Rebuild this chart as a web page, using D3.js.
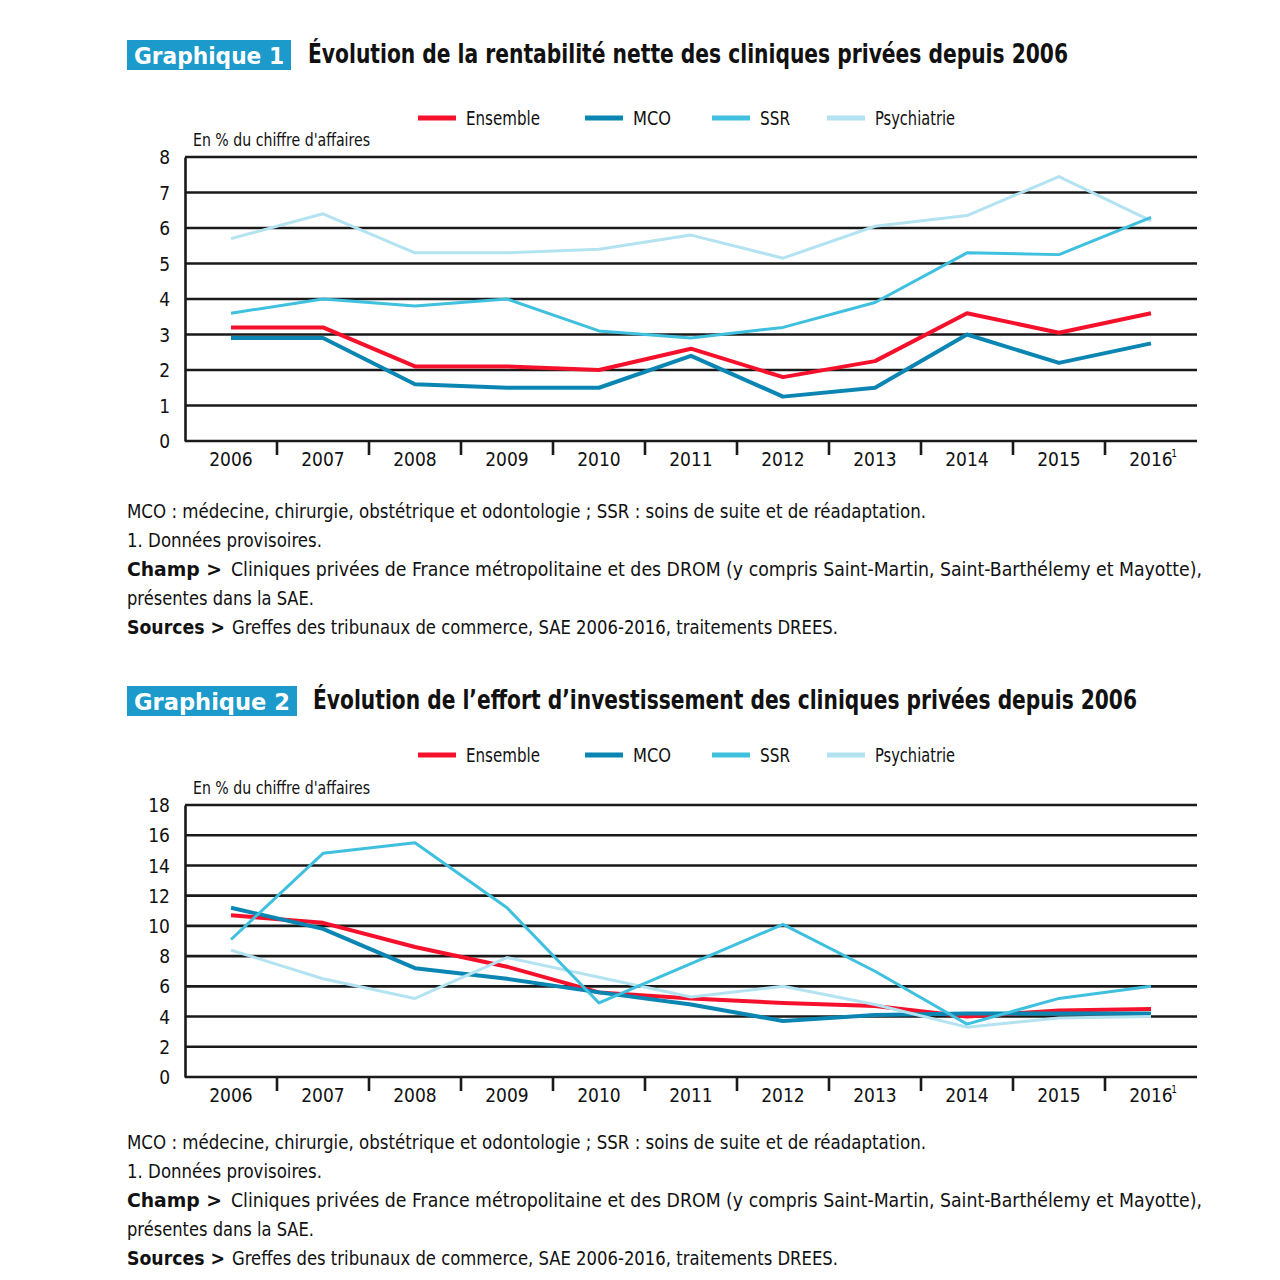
<!DOCTYPE html>
<html>
<head>
<meta charset="utf-8">
<script src="https://cdn.jsdelivr.net/npm/d3@7"></script>
<style>
  body { margin: 0; background: #fff; }
  svg { display: block; }
  text { font-family: "Liberation Sans Narrow", "DejaVu Sans Condensed", "Roboto Condensed", sans-serif; fill: #111; }
</style>
</head>
<body>
<div id="chart"></div>
<script>
const years = ['2006','2007','2008','2009','2010','2011','2012','2013','2014','2015','2016'];
const seriesNames = ['Ensemble','MCO','SSR','Psychiatrie'];

// Graphique 1 : rentabilité nette (% du CA)
const rentEnsemble = [3.2, 3.2, 2.1, 2.1, 2.0, 2.6, 1.8, 2.25, 3.6, 3.05, 3.6];
const rentMCO      = [2.9, 2.9, 1.6, 1.5, 1.5, 2.4, 1.25, 1.5, 3.0, 2.2, 2.75];
const rentSSR      = [3.6, 4.0, 3.8, 4.0, 3.1, 2.9, 3.2, 3.9, 5.3, 5.25, 6.3];
const rentPsy      = [5.7, 6.4, 5.3, 5.3, 5.4, 5.8, 5.15, 6.05, 6.35, 7.45, 6.2];
const rentTicks    = [0, 1, 2, 3, 4, 5, 6, 7, 8];

// Graphique 2 : effort d'investissement (% du CA)
const invEnsemble = [10.7, 10.2, 8.6, 7.3, 5.6, 5.2, 4.9, 4.7, 4.0, 4.4, 4.5];
const invMCO      = [11.2, 9.8, 7.2, 6.5, 5.6, 4.8, 3.7, 4.1, 4.2, 4.2, 4.2];
const invSSR      = [9.1, 14.8, 15.5, 11.2, 4.9, 7.5, 10.1, 7.0, 3.5, 5.2, 6.0];
const invPsy      = [8.4, 6.5, 5.2, 7.9, 6.6, 5.3, 6.0, 4.8, 3.3, 3.9, 4.0];
const invTicks    = [0, 2, 4, 6, 8, 10, 12, 14, 16, 18];

const colors = {Ensemble: '#f5112c', MCO: '#0b86b3', SSR: '#3ec0de', Psychiatrie: '#b3e3f1'};
const widths = {Ensemble: 4, MCO: 4, SSR: 3, Psychiatrie: 3};
const drawOrder = ['Ensemble', 'MCO', 'Psychiatrie', 'SSR'];

const svg = d3.select('#chart').append('svg')
    .attr('width', 1280)
    .attr('height', 1280);

function drawChart(cfg) {
    const g = svg.append('g');
    const top = cfg.top;

    // titre
    g.append('rect')
        .attr('x', 127).attr('y', top)
        .attr('width', cfg.boxW).attr('height', 30)
        .attr('fill', '#1b9acb');
    g.append('text')
        .attr('x', 134).attr('y', top + 24)
        .attr('font-size', 23).attr('font-weight', 'bold')
        .attr('textLength', cfg.boxW - 14).attr('lengthAdjust', 'spacingAndGlyphs')
        .style('fill', '#fff')
        .text(cfg.label);
    g.append('text')
        .attr('x', cfg.titleX).attr('y', top + 23)
        .attr('font-size', 26).attr('font-weight', 'bold')
        .attr('textLength', cfg.titleW).attr('lengthAdjust', 'spacingAndGlyphs')
        .text(cfg.title);

    // légende
    const legX = [418, 585, 712, 827];
    const legW = [74, 38, 30, 80];
    seriesNames.forEach((name, i) => {
        const ly = cfg.legendY;
        g.append('line')
            .attr('x1', legX[i]).attr('x2', legX[i] + 38)
            .attr('y1', ly).attr('y2', ly)
            .attr('stroke', colors[name]).attr('stroke-width', 5);
        g.append('text')
            .attr('x', legX[i] + 48).attr('y', ly + 7)
            .attr('font-size', 20)
            .attr('textLength', legW[i]).attr('lengthAdjust', 'spacingAndGlyphs')
            .text(name);
    });

    g.append('text')
        .attr('x', 193).attr('y', cfg.y0 - 11)
        .attr('font-size', 18)
        .attr('textLength', 177).attr('lengthAdjust', 'spacingAndGlyphs')
        .text("En % du chiffre d'affaires");

    const x = d3.scaleBand().domain(years).range([185, 1197]);
    const y = d3.scaleLinear().domain([0, cfg.max]).range([cfg.y1, cfg.y0]);

    // grille horizontale
    g.append('g').selectAll('line')
        .data(cfg.ticks)
        .join('line')
        .attr('x1', 185).attr('x2', 1197)
        .attr('y1', d => y(d)).attr('y2', d => y(d))
        .attr('stroke', '#1a1a1a').attr('stroke-width', 2.6);

    // axe y
    const yAxis = g.append('g')
        .attr('transform', 'translate(185,0)')
        .call(d3.axisLeft(y).tickValues(cfg.ticks).tickSize(0).tickPadding(15));
    yAxis.select('.domain').attr('stroke', '#1a1a1a').attr('stroke-width', 2.6);
    yAxis.selectAll('text').attr('font-size', 19).attr('dy', '0.35em')
        .style('font-family', '"Liberation Sans Narrow", "DejaVu Sans Condensed", sans-serif');

    // axe x
    const xAxis = g.append('g')
        .attr('transform', `translate(0,${cfg.y1})`)
        .call(d3.axisBottom(x).tickSize(0).tickPadding(12));
    xAxis.select('.domain').remove();
    xAxis.selectAll('text').attr('font-size', 19)
        .style('font-family', '"Liberation Sans Narrow", "DejaVu Sans Condensed", sans-serif');
    xAxis.selectAll('.tick')
        .filter(d => d === '2016')
        .append('text')
        .attr('x', 23).attr('y', 16)
        .attr('font-size', 10)
        .style('fill', '#111')
        .text('1');
    g.append('g').selectAll('line')
        .data(years.slice(1))
        .join('line')
        .attr('x1', d => x(d)).attr('x2', d => x(d))
        .attr('y1', cfg.y1).attr('y2', cfg.y1 + 14)
        .attr('stroke', '#1a1a1a').attr('stroke-width', 2.6);

    // courbes
    const line = d3.line()
        .x((d, i) => x(years[i]) + x.bandwidth() / 2)
        .y(d => y(d));
    drawOrder.forEach(name => {
        g.append('path')
            .datum(cfg.series[name])
            .attr('fill', 'none')
            .attr('stroke', colors[name])
            .attr('stroke-width', widths[name])
            .attr('stroke-linejoin', 'round')
            .attr('d', line);
    });

    // notes
    const notes = g.append('g').attr('font-size', 20);
    const n0 = cfg.notesY;
    const step = 29;
    notes.append('text').attr('x', 127).attr('y', n0)
        .attr('textLength', 799).attr('lengthAdjust', 'spacingAndGlyphs')
        .text('MCO : médecine, chirurgie, obstétrique et odontologie ; SSR : soins de suite et de réadaptation.');
    notes.append('text').attr('x', 127).attr('y', n0 + step)
        .attr('textLength', 195).attr('lengthAdjust', 'spacingAndGlyphs')
        .text('1. Données provisoires.');
    notes.append('text').attr('x', 127).attr('y', n0 + step * 2)
        .attr('font-weight', 'bold')
        .attr('textLength', 95).attr('lengthAdjust', 'spacingAndGlyphs')
        .text('Champ >');
    notes.append('text').attr('x', 231).attr('y', n0 + step * 2)
        .attr('textLength', 971).attr('lengthAdjust', 'spacingAndGlyphs')
        .text('Cliniques privées de France métropolitaine et des DROM (y compris Saint-Martin, Saint-Barthélemy et Mayotte),');
    notes.append('text').attr('x', 127).attr('y', n0 + step * 3)
        .attr('textLength', 187).attr('lengthAdjust', 'spacingAndGlyphs')
        .text('présentes dans la SAE.');
    notes.append('text').attr('x', 127).attr('y', n0 + step * 4)
        .attr('font-weight', 'bold')
        .attr('textLength', 98).attr('lengthAdjust', 'spacingAndGlyphs')
        .text('Sources >');
    notes.append('text').attr('x', 232).attr('y', n0 + step * 4)
        .attr('textLength', 606).attr('lengthAdjust', 'spacingAndGlyphs')
        .text('Greffes des tribunaux de commerce, SAE 2006-2016, traitements DREES.');
}

drawChart({
    top: 40, boxW: 164, label: 'Graphique 1',
    titleX: 308, titleW: 760,
    title: 'Évolution de la rentabilité nette des cliniques privées depuis 2006',
    legendY: 118, y0: 157, y1: 441, max: 8, ticks: rentTicks,
    series: {Ensemble: rentEnsemble, MCO: rentMCO, SSR: rentSSR, Psychiatrie: rentPsy},
    notesY: 518
});

drawChart({
    top: 686, boxW: 170, label: 'Graphique 2',
    titleX: 313, titleW: 824,
    title: 'Évolution de l’effort d’investissement des cliniques privées depuis 2006',
    legendY: 755, y0: 805, y1: 1077, max: 18, ticks: invTicks,
    series: {Ensemble: invEnsemble, MCO: invMCO, SSR: invSSR, Psychiatrie: invPsy},
    notesY: 1149
});
</script>
</body>
</html>
